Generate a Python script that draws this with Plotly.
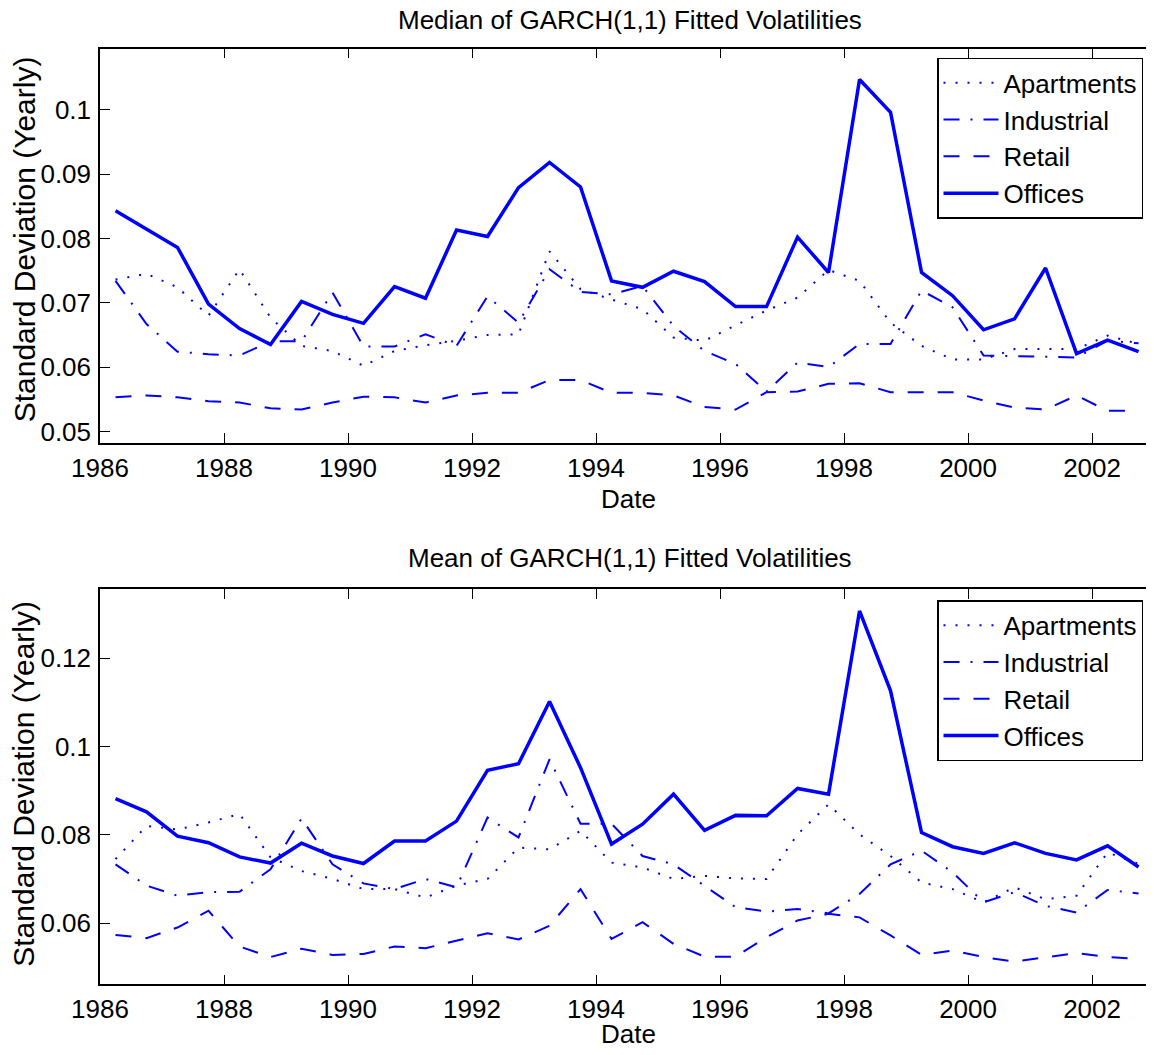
import plotly.graph_objects as go

dates = [1986.25, 1986.75, 1987.25, 1987.75, 1988.25, 1988.75, 1989.25, 1989.75,
         1990.25, 1990.75, 1991.25, 1991.75, 1992.25, 1992.75, 1993.25, 1993.75,
         1994.25, 1994.75, 1995.25, 1995.75, 1996.25, 1996.75, 1997.25, 1997.75,
         1998.25, 1998.75, 1999.25, 1999.75, 2000.25, 2000.75, 2001.25, 2001.75,
         2002.25, 2002.75]

series_names = ["Apartments", "Industrial", "Retail", "Offices"]

# Median of GARCH(1,1) fitted volatilities
median_apartments = [0.0736, 0.0745, 0.0724, 0.0680, 0.0752, 0.0677, 0.0633, 0.0625,
                     0.0602, 0.0625, 0.0634, 0.0641, 0.0650, 0.0651, 0.0780, 0.0721,
                     0.0705, 0.0690, 0.0646, 0.0641, 0.0665, 0.0688, 0.0708, 0.0751,
                     0.0734, 0.0669, 0.0633, 0.0612, 0.0612, 0.0628, 0.0628, 0.0628,
                     0.0649, 0.0636]
median_industrial = [0.0734, 0.0667, 0.0624, 0.0620, 0.0618, 0.0640, 0.0640, 0.0716,
                     0.0632, 0.0632, 0.0651, 0.0633, 0.0710, 0.0669, 0.0752, 0.0717,
                     0.0713, 0.0726, 0.0664, 0.0625, 0.0605, 0.0562, 0.0607, 0.0600,
                     0.0636, 0.0636, 0.0719, 0.0693, 0.0618, 0.0617, 0.0617, 0.0615,
                     0.0641, 0.0637]
median_retail = [0.0553, 0.0556, 0.0553, 0.0547, 0.0545, 0.0536, 0.0534, 0.0545,
                 0.0554, 0.0553, 0.0545, 0.0556, 0.0560, 0.0560, 0.0580, 0.0580,
                 0.0560, 0.0560, 0.0556, 0.0538, 0.0534, 0.0561, 0.0562, 0.0574,
                 0.0575, 0.0561, 0.0561, 0.0561, 0.0548, 0.0537, 0.0534, 0.0556,
                 0.0532, 0.0532]
median_offices = [0.0843, 0.0815, 0.0786, 0.0698, 0.0660, 0.0635, 0.0702, 0.0682,
                  0.0668, 0.0725, 0.0707, 0.0813, 0.0803, 0.0879, 0.0918, 0.0880,
                  0.0734, 0.0724, 0.0749, 0.0733, 0.0694, 0.0694, 0.0802, 0.0747,
                  0.1047, 0.0996, 0.0747, 0.0711, 0.0658, 0.0675, 0.0754, 0.0621,
                  0.0642, 0.0624]

# Mean of GARCH(1,1) fitted volatilities
mean_apartments = [0.0745, 0.0820, 0.0812, 0.0828, 0.0847, 0.0749, 0.0718, 0.0700,
                   0.0677, 0.0677, 0.0658, 0.0685, 0.0700, 0.0771, 0.0767, 0.0809,
                   0.0737, 0.0726, 0.0700, 0.0707, 0.0701, 0.0700, 0.0801, 0.0869,
                   0.0801, 0.0752, 0.0692, 0.0677, 0.0647, 0.0681, 0.0654, 0.0662,
                   0.0760, 0.0734]
mean_industrial = [0.0733, 0.0685, 0.0662, 0.0670, 0.0671, 0.0722, 0.0837, 0.0733,
                   0.0690, 0.0677, 0.0700, 0.0681, 0.0839, 0.0794, 0.0971, 0.0825,
                   0.0825, 0.0752, 0.0733, 0.0685, 0.0636, 0.0626, 0.0632, 0.0622,
                   0.0666, 0.0733, 0.0764, 0.0715, 0.0647, 0.0670, 0.0639, 0.0624,
                   0.0675, 0.0667]
mean_retail = [0.0573, 0.0566, 0.0590, 0.0628, 0.0547, 0.0523, 0.0542, 0.0528,
               0.0530, 0.0547, 0.0543, 0.0560, 0.0577, 0.0563, 0.0594, 0.0677,
               0.0564, 0.0602, 0.0553, 0.0524, 0.0524, 0.0568, 0.0606, 0.0621,
               0.0613, 0.0572, 0.0528, 0.0538, 0.0523, 0.0513, 0.0523, 0.0532,
               0.0523, 0.0519]
mean_offices = [0.0882, 0.0852, 0.0797, 0.0782, 0.0750, 0.0736, 0.0781, 0.0752,
                0.0735, 0.0786, 0.0786, 0.0831, 0.0946, 0.0961, 0.1102, 0.0952,
                0.0779, 0.0824, 0.0892, 0.0810, 0.0844, 0.0843, 0.0905, 0.0892,
                0.1307, 0.1126, 0.0805, 0.0773, 0.0758, 0.0782, 0.0758, 0.0743,
                0.0775, 0.0727]

x_tickvals = [1986, 1988, 1990, 1992, 1994, 1996, 1998, 2000, 2002]
top_ytickvals = [0.05, 0.06, 0.07, 0.08, 0.09, 0.1]
top_yticktext = ["0.05", "0.06", "0.07", "0.08", "0.09", "0.1"]
bot_ytickvals = [0.06, 0.08, 0.1, 0.12]
bot_yticktext = ["0.06", "0.08", "0.1", "0.12"]

titles = ["Median of GARCH(1,1) Fitted Volatilities", "Mean of GARCH(1,1) Fitted Volatilities"]
xlabel = "Date"
ylabel = "Standard Deviation (Yearly)"

BLUE = "#0000ff"
FONT = "Liberation Sans, Arial, Helvetica, sans-serif"
FS = 26
FS_YLAB = 30

styles = {
    "Apartments": dict(dash="2px,10px", width=2),
    "Industrial": dict(dash="16px,11px,2px,11px", width=2),
    "Retail": dict(dash="16px,14px", width=2),
    "Offices": dict(dash="solid", width=3.5),
}

OFF = 8            # page body margin of the html page
W, H = 1138, 1039
L = 92
X_RANGE = [1986, 2002.87]
TOP_YRANGE = [0.0482, 0.1095]
BOT_YRANGE = [0.0461, 0.1356]

fig = go.Figure()

panels = [
    ("x", "y", "legend", [median_apartments, median_industrial, median_retail, median_offices]),
    ("x2", "y2", "legend2", [mean_apartments, mean_industrial, mean_retail, mean_offices]),
]
for xa, ya, leg, data in panels:
    for name, vals in zip(series_names, data):
        st = styles[name]
        fig.add_trace(go.Scatter(
            x=dates, y=vals, name=name, mode="lines",
            line=dict(color=BLUE, width=st["width"], dash=st["dash"]),
            xaxis=xa, yaxis=ya, legend=leg, hoverinfo="skip",
        ))

def ypaper(screen_y):
    return 1 - (screen_y - OFF) / H

def xpaper(screen_x):
    return (screen_x - OFF - L) / (W - L)

tick_common = dict(
    ticks="inside", ticklen=10, tickwidth=1.2, tickcolor="black",
    showgrid=False, zeroline=False,
    tickfont=dict(family=FONT, size=FS, color="black"),
)
xaxis_common = dict(showline=True, linecolor="black", linewidth=1.5, mirror="ticks",
                    range=X_RANGE, tickvals=x_tickvals, ticklabelstandoff=1,
                    domain=[0, 1], **tick_common)
yaxis_common = dict(showline=True, linecolor="black", linewidth=1.5, mirror=False,
                    ticklabelstandoff=2, **tick_common)
# right-hand tick marks (the right frame edge itself lies outside the picture)
yright_common = dict(showline=False, side="right", showticklabels=False, **tick_common)

top_dom = [ypaper(444.3), ypaper(48.7)]
bot_dom = [ypaper(987.3), ypaper(591)]

legend_common = dict(
    xanchor="right", yanchor="top",
    bordercolor="black", borderwidth=1.5, bgcolor="white",
    font=dict(family=FONT, size=FS, color="black"),
    itemwidth=55, tracegroupgap=0,
)

fig.update_layout(
    width=W, height=H,
    margin=dict(l=L, r=0, t=0, b=0),
    paper_bgcolor="white", plot_bgcolor="white",
    font=dict(family=FONT, size=FS, color="black"),
    xaxis=dict(anchor="y", **xaxis_common),
    yaxis=dict(domain=top_dom, range=TOP_YRANGE, tickvals=top_ytickvals,
               ticktext=top_yticktext, anchor="x", **yaxis_common),
    xaxis2=dict(anchor="y2", **xaxis_common),
    yaxis2=dict(domain=bot_dom, range=BOT_YRANGE, tickvals=bot_ytickvals,
                ticktext=bot_yticktext, anchor="x2", **yaxis_common),
    yaxis3=dict(domain=top_dom, range=TOP_YRANGE, tickvals=top_ytickvals,
                overlaying="y", anchor="x", **yright_common),
    yaxis4=dict(domain=bot_dom, range=BOT_YRANGE, tickvals=bot_ytickvals,
                overlaying="y2", anchor="x2", **yright_common),
    legend=dict(x=xpaper(1143), y=ypaper(58), **legend_common),
    legend2=dict(x=xpaper(1143), y=ypaper(602), **legend_common),
    showlegend=True,
)

annots = [
    dict(text=titles[0], x=xpaper(630), y=ypaper(20), size=FS, angle=0),
    dict(text=titles[1], x=xpaper(630), y=ypaper(560), size=FS, angle=0),
    dict(text=xlabel, x=xpaper(628), y=ypaper(500), size=FS, angle=0),
    dict(text=xlabel, x=xpaper(628), y=ypaper(1037), size=FS, angle=0),
    dict(text=ylabel, x=xpaper(24), y=ypaper(240), size=FS_YLAB, angle=-90),
    dict(text=ylabel, x=xpaper(24), y=ypaper(786), size=FS_YLAB, angle=-90),
]
for a in annots:
    fig.add_annotation(xref="paper", yref="paper", showarrow=False,
                       xanchor="center", yanchor="middle", text=a["text"],
                       x=a["x"], y=a["y"], textangle=a["angle"],
                       font=dict(family=FONT, size=a["size"], color="black"))

fig.write_html("out.html")
